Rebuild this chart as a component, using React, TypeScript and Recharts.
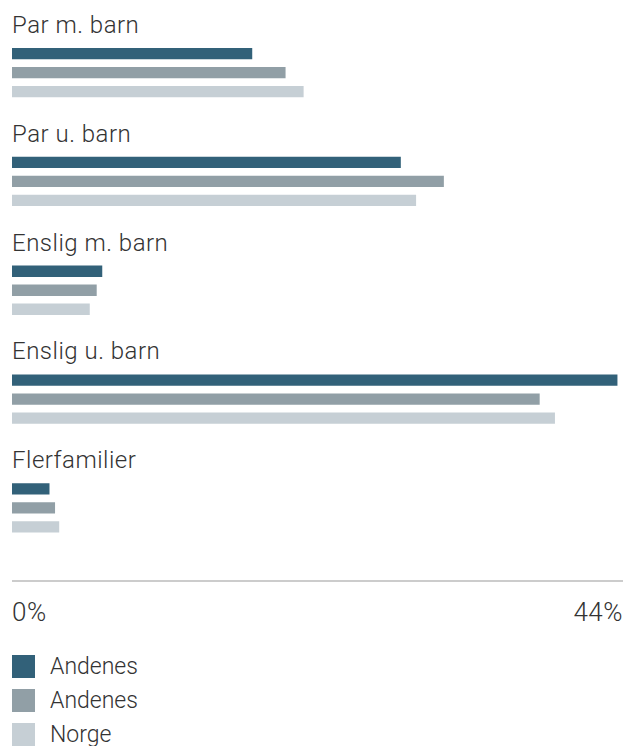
import { BarChart, Bar, XAxis, YAxis, Legend, LabelList } from "recharts";

const categories = ["Par m. barn", "Par u. barn", "Enslig m. barn", "Enslig u. barn", "Flerfamilier"];
const andenesA = [17.3, 28.0, 6.5, 43.6, 2.7];
const andenesB = [19.7, 31.1, 6.1, 38.0, 3.1];
const norge = [21.0, 29.1, 5.6, 39.1, 3.4];
const xTicks = [0, 44];

const seriesNames = ["Andenes", "Andenes", "Norge"];
const colors = ["#326179", "#919fa6", "#c6cfd5"];

const data = categories.map((name, i) => ({
  name,
  a: andenesA[i],
  b: andenesB[i],
  n: norge[i],
}));

const FONT = "Roboto, 'Helvetica Neue', Arial, sans-serif";
const TEXT = "#333";

// category name drawn above the first bar of each group
const CategoryLabel = (props: any) => {
  const { x, y, value } = props;
  return (
    <text x={x} y={y - 15} fill={TEXT} fontSize={24} fontWeight={300} letterSpacing={0.5} fontFamily={FONT}>
      {value}
    </text>
  );
};

const PercentTick = (props: any) => {
  const { x, y, payload } = props;
  const first = payload.value === xTicks[0];
  return (
    <text
      x={x}
      y={y + 32}
      textAnchor={first ? "start" : "end"}
      fill={TEXT}
      fontSize={26}
      fontWeight={300}
      letterSpacing={0.5}
      fontFamily={FONT}
    >
      {payload.value}%
    </text>
  );
};

const LegendBox = () => (
  <div style={{ height: 105, paddingTop: 14, boxSizing: "border-box", fontFamily: FONT }}>
    {seriesNames.map((s, i) => (
      <div key={i} style={{ display: "flex", alignItems: "center", height: 23, marginBottom: 11 }}>
        <span style={{ width: 23, height: 23, background: colors[i], display: "inline-block", flex: "none" }} />
        <span style={{ marginLeft: 15, fontSize: 23, fontWeight: 300, color: TEXT, lineHeight: "23px" }}>{s}</span>
      </div>
    ))}
  </div>
);

export default function App() {
  return (
    <div style={{ position: "absolute", left: 0, top: 0, width: 637, height: 746, background: "#fff" }}>
      <BarChart
        width={637}
        height={746}
        data={data}
        layout="vertical"
        margin={{ top: 18, right: 14, bottom: 0, left: 12 }}
        barGap={7.7}
      >
        <XAxis
          type="number"
          domain={[0, 44]}
          ticks={xTicks}
          height={60}
          axisLine={{ stroke: "#999", strokeWidth: 1 }}
          tickLine={false}
          tick={<PercentTick />}
          interval={0}
        />
        <YAxis
          type="category"
          dataKey="name"
          width={0}
          axisLine={false}
          tickLine={false}
          tick={false}
          padding={{ top: 0, bottom: 19 }}
        />
        <Legend verticalAlign="bottom" align="left" content={<LegendBox />} />
        <Bar dataKey="a" name={seriesNames[0]} fill={colors[0]} barSize={11.3} isAnimationActive={false}>
          <LabelList dataKey="name" content={<CategoryLabel />} />
        </Bar>
        <Bar dataKey="b" name={seriesNames[1]} fill={colors[1]} barSize={11.3} isAnimationActive={false} />
        <Bar dataKey="n" name={seriesNames[2]} fill={colors[2]} barSize={11.3} isAnimationActive={false} />
      </BarChart>
    </div>
  );
}
